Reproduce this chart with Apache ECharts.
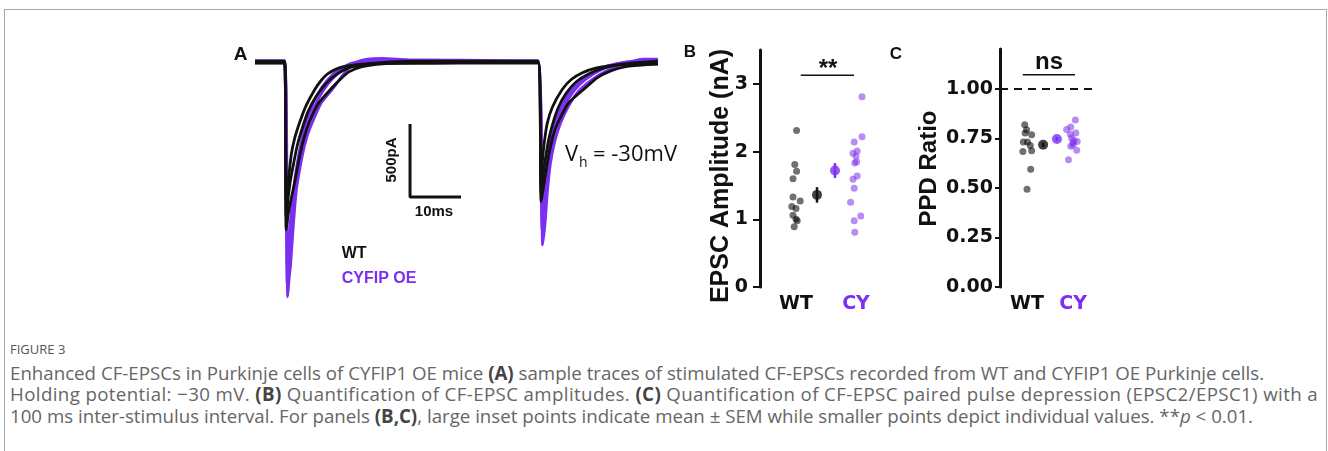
<!DOCTYPE html>
<html><head><meta charset="utf-8">
<script src="https://cdn.jsdelivr.net/npm/echarts@6/dist/echarts.min.js"></script>
<style>
html,body{margin:0;padding:0;background:#fff;}
#wrap{position:relative;width:1328px;height:451px;overflow:hidden;background:#fff;}
#frame{position:absolute;left:4px;top:9px;width:1323px;height:480px;border:1px solid #a8a8a8;box-sizing:border-box;}
#chart{position:absolute;left:0;top:0;width:1328px;height:330px;}
.cap{position:absolute;left:10px;font-family:'Open Sans',sans-serif;color:#666;white-space:nowrap;font-size:18.7px;line-height:22px;}
.cap b{color:#444;font-weight:700;}
#fig{position:absolute;left:10px;top:340px;font-family:'Open Sans',sans-serif;font-size:13px;color:#555;line-height:18px;}
</style></head>
<body><div id="wrap">
<div id="frame"></div>
<div id="chart"></div>
<div id="fig">FIGURE 3</div>
<div class="cap" style="top:362px">Enhanced CF-EPSCs in Purkinje cells of CYFIP1 OE mice <b>(A)</b> sample traces of stimulated CF-EPSCs recorded from WT and CYFIP1 OE Purkinje cells.</div>
<div class="cap" style="top:383px;letter-spacing:0.38px">Holding potential: −30 mV. <b>(B)</b> Quantification of CF-EPSC amplitudes. <b>(C)</b> Quantification of CF-EPSC paired pulse depression (EPSC2/EPSC1) with a</div>
<div class="cap" style="top:405px">100 ms inter-stimulus interval. For panels <b>(B,C)</b>, large inset points indicate mean ± SEM while smaller points depict individual values. **<i>p</i> &lt; 0.01.</div>
</div>
<script>
// ---- Panel A: sample traces [time ms, current pA] ----
const traceWT1 = [[0,0],[5.8,0],[6.1,-1150],[6.6,-1020],[7.2,-920],[7.8,-820],[8.8,-637],[9.7,-510],[10.7,-409],[12.5,-280],[15,-180],[17,-110],[18.5,-66],[21,-32],[25,-12],[30,-5],[40,0],[50,0],[55.5,0],[56.1,-957],[56.6,-850],[57.1,-740],[57.6,-637],[58.5,-500],[59.5,-409],[61.5,-280],[64.7,-180],[67,-110],[69.4,-66],[73,-30],[79,-15]];
const traceWT2 = [[0,6],[5.8,6],[6.1,-1060],[6.5,-930],[7.0,-800],[7.6,-690],[8.3,-570],[9.3,-450],[10.4,-340],[12,-235],[14,-145],[16,-85],[18,-45],[21,-20],[25,-5],[30,5],[40,6],[50,6],[55.5,6],[56.1,-900],[56.5,-770],[57,-650],[57.6,-530],[58.4,-420],[59.5,-310],[61,-215],[63,-135],[65.5,-80],[68.5,-40],[72,-15],[79,5]];
const traceWT3 = [[0,-8],[5.8,-8],[6.1,-960],[6.5,-830],[7.1,-637],[7.8,-520],[8.8,-409],[10,-300],[11.7,-190],[13,-125],[14.3,-80],[16.5,-40],[20,-18],[25,-8],[30,-10],[40,-8],[50,-8],[55.5,-8],[56.1,-830],[56.4,-660],[56.8,-530],[57.3,-420],[58.3,-310],[60.2,-190],[62,-120],[64.1,-75],[67,-40],[72,-18],[79,-12]];
const traceCY1 = [[0,0],[5.8,0],[6.4,-1608],[6.7,-1480],[7.0,-1377],[7.45,-1151],[8.1,-880],[9.3,-637],[10.2,-510],[11.3,-409],[13,-280],[15.3,-180],[17,-100],[18.5,-40],[20,0],[22,20],[25,25],[30,15],[40,10],[50,5],[55.5,5],[56.4,-1253],[56.9,-1094],[57.3,-900],[57.9,-700],[58.8,-540],[59.9,-420],[61.5,-300],[63.2,-210],[65,-150],[67.4,-90],[70,-45],[73,-5],[76,20],[79,20]];
const traceCY2 = [[0,10],[5.8,10],[6.3,-1520],[6.7,-1330],[7.1,-1150],[7.6,-960],[8.3,-770],[9.3,-570],[10.6,-400],[12.3,-260],[14.3,-150],[16.5,-70],[18.5,-20],[21,10],[25,18],[30,12],[40,12],[50,10],[55.5,10],[56.3,-1150],[56.7,-980],[57.2,-800],[57.8,-630],[58.7,-480],[59.8,-370],[61.5,-250],[63.5,-160],[66,-90],[69,-35],[73,0],[79,15]];
const traceCY3 = [[0,-5],[5.8,-5],[6.3,-1400],[6.7,-1200],[7.1,-1030],[7.6,-860],[8.3,-690],[9.3,-510],[10.6,-350],[12.3,-220],[14.3,-120],[16.5,-50],[19,-8],[23,8],[30,5],[40,0],[50,0],[55.5,0],[56.3,-1080],[56.7,-900],[57.2,-730],[57.8,-570],[58.7,-430],[59.8,-330],[61.5,-220],[63.5,-140],[66,-75],[69,-28],[73,0],[79,10]];
const scaleBarOrigin = [30.4, -925];
const scaleBarMs = 10;
const scaleBarPA = 500;

// ---- Panel B: EPSC amplitude (nA) ----
const groups = ['WT', 'CY'];
const groupPos = [1, 2];
const meanPos = [1.35, 1.65];
const ampWT = [2.31,1.81,1.71,1.60,1.33,1.27,1.19,1.16,1.06,1.00,0.98,0.89];
const ampWTJitter = [0.01,-0.02,0.01,-0.05,-0.05,0.07,-0.07,0,-0.05,0,0.02,-0.03];
const ampCY = [2.81,2.22,2.14,2.01,1.975,1.93,1.85,1.83,1.64,1.59,1.46,1.25,1.05,0.98,0.81];
const ampCYJitter = [0.1,0.1,-0.03,0.02,-0.05,0,0.01,-0.02,0.02,-0.05,-0.03,-0.09,0.08,-0.03,-0.02];
const ampMean = [1.36, 1.72];
const ampSEM = [0.114, 0.11];
const ampTicks = [0, 1, 2, 3];
const ampSig = {x: [1.078, 1.967], y: 3.127, text: '**'};

// ---- Panel C: PPD ratio ----
const ppdWT = [0.818,0.793,0.776,0.768,0.731,0.731,0.714,0.683,0.687,0.594,0.493];
const ppdWTJitter = [-0.05,-0.01,-0.04,0.1,-0.08,0.01,0.07,-0.09,0.1,0.08,0];
const ppdCY = [0.842,0.807,0.794,0.776,0.770,0.750,0.739,0.733,0.727,0.716,0.710,0.690,0.641];
const ppdCYJitter = [0.05,-0.05,-0.14,0.06,-0.06,-0.03,0.02,0.09,0,0,-0.05,0.08,-0.1];
const ppdMean = [0.717, 0.746];
const ppdSEM = [0.012, 0.01];
const ppdTicks = [0, 0.25, 0.5, 0.75, 1.0];
const ppdRef = 1.0;
const ppdSig = {x: [0.907, 2.043], y: 1.07, text: 'ns'};

const BLACK = '#111111';
const PURPLE = '#7b2ff0';
const WT_PT = 'rgba(0,0,0,0.70)';
const CY_PT = 'rgba(123,47,232,0.68)';
const AX_FONT = '"DejaVu Sans"';
const LAB_FONT = '"Liberation Sans", Arial';

const chart = echarts.init(document.getElementById('chart'), null, {renderer: 'canvas'});

function traceSeries(data, color) {
  return {type: 'line', xAxisIndex: 0, yAxisIndex: 0, data: data, showSymbol: false, symbol: 'none',
    smooth: 0.2, lineStyle: {color: color, width: 2.8}, silent: true, z: color === BLACK ? 3 : 2};
}
function ptsSeries(idx, vals, jit, pos, color, size) {
  return {type: 'scatter', xAxisIndex: idx, yAxisIndex: idx, symbolSize: size,
    data: vals.map((v, i) => [pos + jit[i], v]), itemStyle: {color: color}, silent: true, z: 3};
}
function errSeries(idx, means, sems) {
  return {type: 'custom', xAxisIndex: idx, yAxisIndex: idx, silent: true, z: 4,
    data: means.map((m, i) => [meanPos[i], m - sems[i], m + sems[i], i]),
    encode: {x: 0, y: [1, 2]},
    renderItem: function (params, api) {
      const a = api.coord([api.value(0), api.value(1)]);
      const b = api.coord([api.value(0), api.value(2)]);
      return {type: 'line', shape: {x1: a[0], y1: a[1], x2: b[0], y2: b[1]},
        style: {stroke: api.value(3) === 0 ? BLACK : PURPLE, lineWidth: 2.5}};
    }};
}
function meanSeries(idx, means, size) {
  return {type: 'scatter', xAxisIndex: idx, yAxisIndex: idx, symbolSize: size, silent: true, z: 5,
    data: means.map((m, i) => ({value: [meanPos[i], m], itemStyle: {color: i === 0 ? BLACK : PURPLE}}))};
}
function sigSeries(idx, sig) {
  return {type: 'line', xAxisIndex: idx, yAxisIndex: idx, silent: true, symbol: 'none',
    data: [[sig.x[0], sig.y], [sig.x[1], sig.y]], lineStyle: {color: BLACK, width: 1.6}};
}
function catAxis(idx, min, max) {
  return {type: 'value', gridIndex: idx, min: min, max: max,
    axisLine: {show: false, onZero: false}, axisTick: {show: false}, splitLine: {show: false},
    axisLabel: {customValues: groupPos, margin: 8,
      formatter: v => (Math.round(v) === 1 ? '{wt|' + groups[0] + '}' : '{cy|' + groups[1] + '}'),
      rich: {wt: {color: BLACK, fontFamily: AX_FONT, fontWeight: 'bold', fontSize: 19},
             cy: {color: PURPLE, fontFamily: AX_FONT, fontWeight: 'bold', fontSize: 19}}}};
}
function valAxis(idx, min, max, ticks, fmt, tickLen, margin) {
  return {type: 'value', gridIndex: idx, min: min, max: max,
    axisLine: {show: true, onZero: false, lineStyle: {color: BLACK, width: 3}},
    axisTick: {show: true, customValues: ticks, length: tickLen, lineStyle: {color: BLACK, width: 2}},
    splitLine: {show: false},
    axisLabel: {customValues: ticks, formatter: fmt, margin: margin, color: BLACK,
      fontFamily: AX_FONT, fontWeight: 'bold', fontSize: 19}};
}
function txt(t, x, y, font, color, opts) {
  return Object.assign({type: 'text', x: x, y: y, silent: true, z: 10,
    style: {text: t, font: font, fill: color, align: (opts && opts.align) || 'center', verticalAlign: 'middle'}},
    opts && opts.rotation ? {rotation: opts.rotation} : {});
}

const option = {
  animation: false,
  backgroundColor: 'transparent',
  grid: [
    {left: 255, top: 47.4, width: 408, height: 262.8, outerBoundsMode: 'none', containLabel: false},
    {left: 760, top: 50, width: 120, height: 237, outerBoundsMode: 'none', containLabel: false},
    {left: 1000, top: 49, width: 97, height: 238, outerBoundsMode: 'none', containLabel: false}
  ],
  xAxis: [
    {type: 'value', gridIndex: 0, min: 0, max: 80, show: false},
    catAxis(1, 0.4, 2.4),
    catAxis(2, 0.413, 2.52)
  ],
  yAxis: [
    {type: 'value', gridIndex: 0, min: -1700, max: 100, show: false},
    valAxis(1, 0, 3.5, ampTicks, v => String(Math.round(v)), 7, 12),
    valAxis(2, 0, 1.2, ppdTicks, v => v.toFixed(2), 5, 7)
  ],
  series: [
    traceSeries(traceCY1, PURPLE), traceSeries(traceCY2, PURPLE), traceSeries(traceCY3, PURPLE),
    traceSeries(traceWT1, BLACK), traceSeries(traceWT2, BLACK), traceSeries(traceWT3, BLACK),
    {type: 'line', xAxisIndex: 0, yAxisIndex: 0, silent: true, symbol: 'none', z: 5,
      data: [[scaleBarOrigin[0], scaleBarOrigin[1] + scaleBarPA], scaleBarOrigin, [scaleBarOrigin[0] + scaleBarMs, scaleBarOrigin[1]]],
      lineStyle: {color: BLACK, width: 3}},
    ptsSeries(1, ampWT, ampWTJitter, groupPos[0], WT_PT, 7),
    ptsSeries(1, ampCY, ampCYJitter, groupPos[1], CY_PT, 7),
    errSeries(1, ampMean, ampSEM),
    meanSeries(1, ampMean, 10),
    sigSeries(1, ampSig),
    Object.assign(ptsSeries(2, ppdWT, ppdWTJitter, groupPos[0], WT_PT, 7), {
      markLine: {silent: true, symbol: 'none', label: {show: false},
        lineStyle: {color: BLACK, width: 2, type: [8, 6]}, data: [{yAxis: ppdRef}]}}),
    ptsSeries(2, ppdCY, ppdCYJitter, groupPos[1], CY_PT, 7),
    errSeries(2, ppdMean, ppdSEM),
    meanSeries(2, ppdMean, 10),
    sigSeries(2, ppdSig)
  ],
  graphic: [
    txt('A', 240.5, 55, 'bold 19px ' + LAB_FONT, BLACK),
    txt('B', 690, 52, 'bold 17px ' + LAB_FONT, BLACK),
    txt('C', 896, 54, 'bold 17px ' + LAB_FONT, BLACK),
    txt('500pA', 392, 160, 'bold 15px ' + LAB_FONT, BLACK, {rotation: Math.PI / 2}),
    txt('10ms', 434, 212, 'bold 15px ' + LAB_FONT, BLACK),
    txt('V', 565, 155, '22px "Open Sans"', BLACK, {align: 'left'}),
    txt('h', 579, 163, '14px "Open Sans"', BLACK, {align: 'left'}),
    txt('= -30mV', 593, 155, '22px "Open Sans"', BLACK, {align: 'left'}),
    txt('WT', 341.7, 254, 'bold 16px ' + LAB_FONT, BLACK, {align: 'left'}),
    txt('CYFIP OE', 341.7, 279, 'bold 16px ' + LAB_FONT, PURPLE, {align: 'left'}),
    txt('EPSC Amplitude (nA)', 721, 176, 'bold 25px ' + LAB_FONT, BLACK, {rotation: Math.PI / 2}),
    txt('PPD Ratio', 929, 168.5, 'bold 24px ' + LAB_FONT, BLACK, {rotation: Math.PI / 2}),
    txt(ampSig.text, 828, 69.5, 'bold 24px ' + LAB_FONT, BLACK),
    txt(ppdSig.text, 1049, 62, 'bold 24px ' + LAB_FONT, BLACK)
  ]
};
chart.setOption(option);
</script>
</body></html>
